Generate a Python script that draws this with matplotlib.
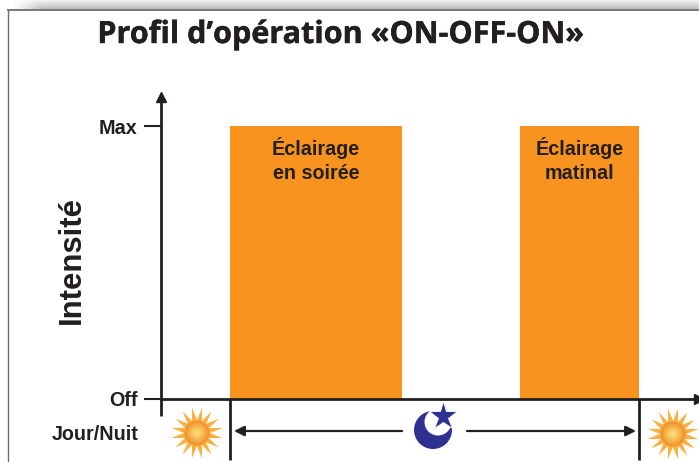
import numpy as np
import matplotlib
matplotlib.use("Agg")
import matplotlib.pyplot as plt
import matplotlib.patheffects as pe
from matplotlib.patches import Polygon, Circle
from matplotlib.colors import LinearSegmentedColormap

title = "Profil d’opération «ON-OFF-ON»"
ylabel = "Intensité"
row_label = "Jour/Nuit"
levels = [0, 1]
level_labels = ["Off", "Max"]
bar_starts = [69, 359]
bar_widths = [172, 119]
bar_heights = [1, 1]
bar_labels = ["Éclairage\nen soirée", "Éclairage\nmatinal"]

INK = "#231f20"
ORANGE = "#f7931e"
BLUE = "#2e3192"
LABEL_FONT = "Liberation Sans"

W, H = 699, 462
fig = plt.figure(figsize=(W / 100, H / 100), dpi=100)

# background layer, in pixels of the picture
bg = fig.add_axes([0, 0, 1, 1])
bg.axis("off")

# grey band above the frame, fading out to the left
rows = np.linspace(0, 1, 10)
cols = np.clip((np.arange(W) - 12) / 30, 0, 1)
shade = np.ones((10, W, 4))
shade[..., :3] = (0.97 - 0.22 * rows)[:, None, None]
shade[..., 3] = cols[None, :]
bg.imshow(shade, extent=(0, W, 9.5, 0), aspect="auto", zorder=1)
bg.plot([7.5, W], [10, 10], color="#6d6d6d", lw=1.3, zorder=2)
bg.plot([7.5, 7.5], [10, H], color="#6d6d6d", lw=1.0, zorder=2)

sun_cmap = LinearSegmentedColormap.from_list(
    "sun", [(0, "#f9e27d"), (0.2, "#f9c25a"), (0.46, "#f0902f"), (0.5, "#fbb040"), (1, "#fbb040")])


def draw_sun(cx, cy, r_out=26, r_in=13, n=16):
    ang = np.linspace(0, 2 * np.pi, 2 * n, endpoint=False) + 0.2
    rad = np.where(np.arange(2 * n) % 2 == 0, r_out, r_in)
    pts = np.column_stack([cx + rad * np.cos(ang), cy + rad * np.sin(ang)])
    poly = Polygon(pts, closed=True, fc="none", ec="none")
    bg.add_patch(poly)
    g = np.linspace(-1, 1, 120)
    xx, yy = np.meshgrid(g, g)
    img = bg.imshow(np.hypot(xx, yy), extent=(cx - r_out, cx + r_out, cy + r_out, cy - r_out),
                    cmap=sun_cmap, vmin=0, vmax=1, aspect="auto", zorder=3)
    img.set_clip_path(poly)


draw_sun(197, 433)
draw_sun(673, 434)

# moon and star
bg.add_patch(Circle((433, 430), 19, fc=BLUE, ec="none", zorder=3))
bg.add_patch(Circle((438, 422), 13.5, fc="white", ec="none", zorder=4))
bg.plot([443], [416], marker="*", ms=21, mfc=BLUE, mec="white", mew=0.6, zorder=5)

# night span
for x in (230, 639):
    bg.plot([x, x], [399, 460], color=INK, lw=2.0, zorder=2, solid_capstyle="butt")
bg.plot([161, 161], [399, 416], color=INK, lw=2.0, zorder=2, solid_capstyle="butt")
arrow = dict(arrowstyle="-|>,head_length=0.6,head_width=0.3", color=INK, lw=1.6,
             shrinkA=0, shrinkB=0)
bg.annotate("", xy=(234, 431), xytext=(402, 431), arrowprops=arrow, zorder=2)
bg.annotate("", xy=(636, 431), xytext=(467, 431), arrowprops=arrow, zorder=2)

bg.text(340, 35, title, family="Open Sans", fontweight="bold", fontsize=22, color=INK,
        ha="center", va="center", path_effects=[pe.withStroke(linewidth=0.3, foreground=INK)])
bg.text(72, 260, ylabel, family=LABEL_FONT, fontweight="bold", fontsize=22.4, color=INK,
        rotation=90, ha="center", va="center")
bg.text(95, 434, row_label, family=LABEL_FONT, fontweight="bold", fontsize=14.2, color=INK,
        ha="center", va="center")
bg.set_xlim(0, W)
bg.set_ylim(H, 0)

# chart layer
ax = fig.add_axes([161 / W, 1 - 399 / H, 538 / W, 302 / H])
ax.patch.set_alpha(0)
ax.set_xlim(0, 538)
ax.set_ylim(0, 302 / 273)
ax.bar(bar_starts, bar_heights, width=bar_widths, align="edge", color=ORANGE, linewidth=0)
for s, w, lab in zip(bar_starts, bar_widths, bar_labels):
    ax.text(s + w / 2, 0.875, lab, family=LABEL_FONT, fontweight="bold", fontsize=14.2, color=INK,
            ha="center", va="center", linespacing=1.3)

ax.set_xticks([])
ax.set_yticks(levels)
ax.set_yticklabels(level_labels, family=LABEL_FONT, fontweight="bold", fontsize=14.2, color=INK)
ax.tick_params(axis="y", length=12, width=1.5, color=INK, pad=5)
for side in ("top", "right"):
    ax.spines[side].set_visible(False)
for side in ("left", "bottom"):
    ax.spines[side].set_linewidth(2.0)
    ax.spines[side].set_color(INK)
ax.plot(1, 0, marker=">", ms=7, color=INK, transform=ax.transAxes, clip_on=False)
ax.plot(0, 1, marker="^", ms=7, color=INK, transform=ax.transAxes, clip_on=False)

fig.savefig("out.png", dpi=100)
